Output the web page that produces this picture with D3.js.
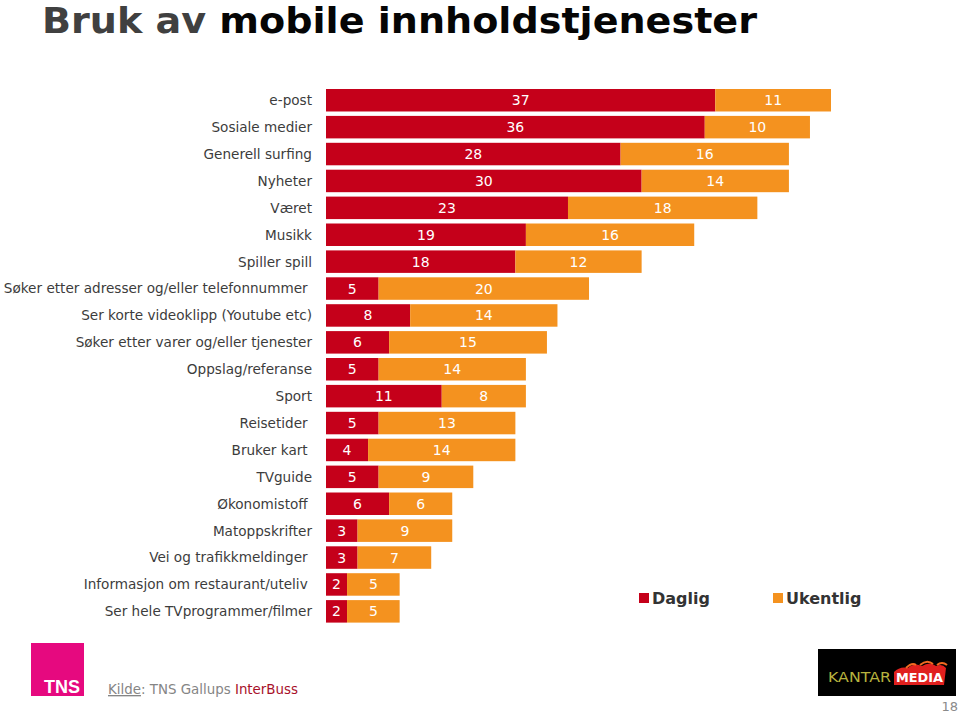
<!DOCTYPE html>
<html>
<head>
<meta charset="utf-8">
<script src="https://cdn.jsdelivr.net/npm/d3@7"></script>
<style>
  html, body { margin: 0; padding: 0; background: #fff; }
  svg { display: block; }
  text { white-space: pre; }
</style>
</head>
<body>
<script>
const categories = [
  "e-post", "Sosiale medier", "Generell surfing", "Nyheter", "Været", "Musikk", "Spiller spill",
  "Søker etter adresser og/eller telefonnummer ", "Ser korte videoklipp (Youtube etc)",
  "Søker etter varer og/eller tjenester", "Oppslag/referanse", "Sport", "Reisetider ",
  "Bruker kart ", "TVguide", "Økonomistoff ", "Matoppskrifter", "Vei og trafikkmeldinger ",
  "Informasjon om restaurant/uteliv ", "Ser hele TVprogrammer/filmer"
];
const daglig   = [37, 36, 28, 30, 23, 19, 18, 5, 8, 6, 5, 11, 5, 4, 5, 6, 3, 3, 2, 2];
const ukentlig = [11, 10, 16, 14, 18, 16, 12, 20, 14, 15, 14, 8, 13, 14, 9, 6, 9, 7, 5, 5];
const seriesNames = ["Daglig", "Ukentlig"];
const seriesColors = ["#C5001A", "#F4921F"];

const W = 960, H = 713;
const svg = d3.select("body").append("svg").attr("width", W).attr("height", H);

// Title
const title = svg.append("text").attr("x", 42).attr("y", 33)
  .attr("font-family", "DejaVu Sans").attr("font-weight", "bold").attr("font-size", 35.5)
  .attr("textLength", 715).attr("lengthAdjust", "spacingAndGlyphs");
title.append("tspan").attr("fill", "#404040").text("Bruk av ");
title.append("tspan").attr("fill", "#050505").text("mobile innholdstjenester");

const x = d3.scaleLinear().domain([0, 48]).range([326, 831]);
const y = d3.scaleBand().domain(categories).range([89, 89 + 20 * 26.9 - 4.4]).paddingInner(0.164).paddingOuter(0);

const rows = categories.map((c, i) => ({ cat: c, segs: [
  { s: 0, x0: 0, x1: daglig[i], v: daglig[i] },
  { s: 1, x0: daglig[i], x1: daglig[i] + ukentlig[i], v: ukentlig[i] }
]}));

const g = svg.append("g");
const row = g.selectAll("g.row").data(rows).join("g").attr("class", "row")
  .attr("transform", d => `translate(0,${y(d.cat)})`);

row.selectAll("rect").data(d => d.segs).join("rect")
  .attr("x", d => x(d.x0)).attr("width", d => x(d.x1) - x(d.x0))
  .attr("y", 0).attr("height", y.bandwidth())
  .attr("fill", d => seriesColors[d.s]);

row.selectAll("text.val").data(d => d.segs).join("text").attr("class", "val")
  .attr("x", d => (x(d.x0) + x(d.x1)) / 2).attr("y", y.bandwidth() / 2).attr("dy", "0.36em")
  .attr("text-anchor", "middle").attr("fill", "#fff")
  .attr("font-family", "DejaVu Sans").attr("font-size", 14)
  .text(d => d.v);

// Category axis labels
const axis = d3.axisLeft(y).tickSize(0).tickPadding(0);
const ax = svg.append("g").attr("transform", "translate(312,0)").call(axis);
ax.select(".domain").remove();
ax.selectAll("text").attr("font-family", "DejaVu Sans").attr("font-size", 13.6)
  .attr("fill", "#3c3c3c").attr("x", 0).attr("dy", "0.36em");

// Legend
const legendX = [639, 773];
seriesNames.forEach((n, i) => {
  svg.append("rect").attr("x", legendX[i]).attr("y", 593).attr("width", 10).attr("height", 10)
    .attr("fill", seriesColors[i]);
  svg.append("text").attr("x", legendX[i] + 13).attr("y", 604)
    .attr("font-family", "DejaVu Sans").attr("font-weight", "bold").attr("font-size", 16)
    .attr("fill", "#333").text(n);
});

// TNS logo
svg.append("rect").attr("x", 31).attr("y", 643).attr("width", 53).attr("height", 53).attr("fill", "#E6097F");
svg.append("text").attr("x", 80).attr("y", 693).attr("text-anchor", "end")
  .attr("font-family", "Liberation Sans").attr("font-weight", "bold").attr("font-size", 18)
  .attr("fill", "#fff").text("TNS");

// Source
const src = svg.append("text").attr("x", 108).attr("y", 694)
  .attr("font-family", "DejaVu Sans").attr("font-size", 13.4).attr("fill", "#858585");
src.append("tspan").attr("text-decoration", "underline").text("Kilde");
src.append("tspan").text(": TNS Gallups ");
src.append("tspan").attr("fill", "#A8102A").text("InterBuss");

// Kantar Media logo
svg.append("rect").attr("x", 818).attr("y", 649).attr("width", 138).attr("height", 47).attr("fill", "#000");
const flame = svg.append("g");
flame.append("path")
  .attr("d", "M894,685 L894,672 Q900,666 908,668 Q914,662 922,666 Q930,661 936,666 Q942,663 946,668 L944,685 Z")
  .attr("fill", "#E0201E");
flame.append("path")
  .attr("d", "M906,668 Q912,662 916,665 M920,665 Q927,659 933,664 M937,665 Q942,661 947,665")
  .attr("stroke", "#F26A21").attr("stroke-width", 2).attr("fill", "none");
svg.append("text").attr("x", 828).attr("y", 682)
  .attr("font-family", "DejaVu Sans").attr("font-size", 14).attr("fill", "#B7B23E")
  .attr("textLength", 63).attr("lengthAdjust", "spacingAndGlyphs").text("KANTAR");
svg.append("text").attr("x", 896).attr("y", 682)
  .attr("font-family", "DejaVu Sans").attr("font-weight", "bold").attr("font-size", 13)
  .attr("fill", "#fff").attr("textLength", 47).attr("lengthAdjust", "spacingAndGlyphs").text("MEDIA");

// Page number
svg.append("text").attr("x", 958).attr("y", 711).attr("text-anchor", "end")
  .attr("font-family", "DejaVu Sans").attr("font-size", 13).attr("fill", "#8a8a8a").text("18");
</script>
</body>
</html>
